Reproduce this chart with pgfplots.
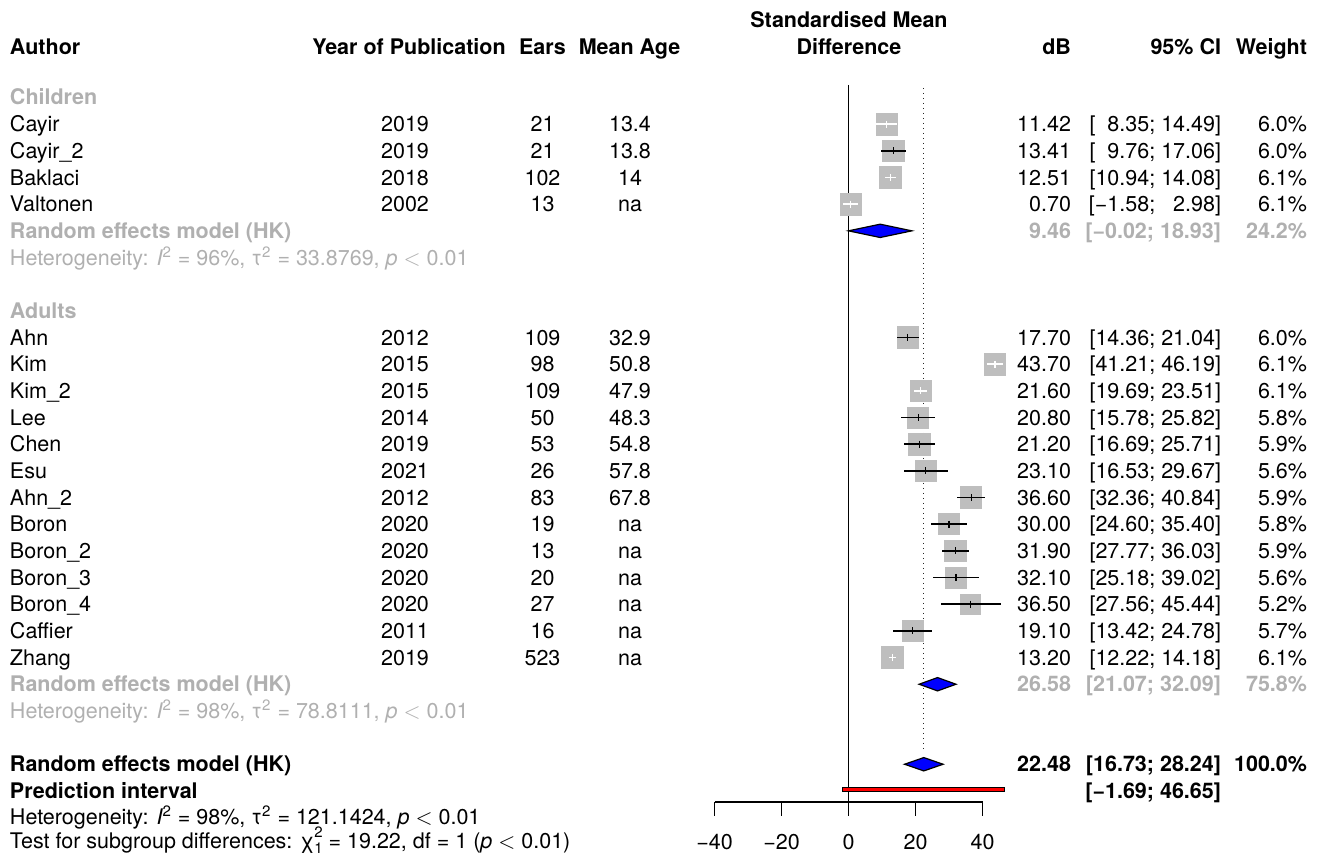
\documentclass[border=0pt]{standalone}
\usepackage{pgfplots}
\pgfplotsset{compat=1.18}
\usepackage{pgfplotstable}
\usepackage{fontspec}
\setmainfont{TeX Gyre Heros}
\definecolor{sqgray}{HTML}{BEBEBE}
\definecolor{txgray}{HTML}{B0B0B0}
\definecolor{dblue}{HTML}{0000FF}
\definecolor{dred}{HTML}{FF0000}

% studies whose CI lies inside the square (white CI line); e = half width of CI
\pgfplotstableread{
row est lo hi e w
1 11.42 8.35 14.49 3.07 6.0
3 12.51 10.94 14.08 1.57 6.1
4 0.70 -1.58 2.98 2.28 6.1
10 43.70 41.21 46.19 2.49 6.1
11 21.60 19.69 23.51 1.91 6.1
21 13.20 12.22 14.18 0.98 6.1
}\inside
% studies whose CI extends beyond the square (black CI line)
\pgfplotstableread{
row est lo hi e w
2 13.41 9.76 17.06 3.65 6.0
9 17.70 14.36 21.04 3.34 6.0
12 20.80 15.78 25.82 5.02 5.8
13 21.20 16.69 25.71 4.51 5.9
14 23.10 16.53 29.67 6.57 5.6
15 36.60 32.36 40.84 4.24 5.9
16 30.00 24.60 35.40 5.40 5.8
17 31.90 27.77 36.03 4.13 5.9
18 32.10 25.18 39.02 6.92 5.6
19 36.50 27.56 45.44 8.94 5.2
20 19.10 13.42 24.78 5.68 5.7
}\outside

\newcommand{\strow}[8]{%
 \node[anchor=base west] at (10,#1) {#2};
 \node[anchor=base] at (405,#1) {#3};
 \node[anchor=base] at (542.5,#1) {#4};
 \node[anchor=base] at (630,#1) {#5};
 \node[anchor=base east] at (1071,#1) {#6};
 \node[anchor=base east] at (1221,#1) {#7};
 \node[anchor=base east] at (1307,#1) {#8};
}
\newcommand{\Isq}{{\itshape I}\textsuperscript{2}}
\newcommand{\tsq}{τ\textsuperscript{2}}
\newcommand{\lt}{\ensuremath{<}}
\newcommand{\chisq}{χ\rlap{\raisebox{-0.22em}{\fontsize{7.5}{8}\selectfont 1}}\raisebox{0.5em}{\fontsize{7.5}{8}\selectfont 2}}
\pgfplotsset{
  sqstyle/.style={scatter, only marks, mark=square*,
    point meta=explicit, point meta min=0, point meta max=10,
    scatter/use mapped color={draw=sqgray, fill=sqgray},
    scatter/@pre marker code/.append style={/tikz/mark size={5.4*sqrt(\pgfplotspointmetatransformed/600)}}},
  cistyle/.style={on layer=axis foreground, only marks, mark=|, mark size=1.8pt, mark options={draw=#1, line width=0.6pt},
    error bars/.cd, x dir=both, x explicit, error mark=none,
    error bar style={#1, line width=0.75pt}},
}

\begin{document}
\begin{tikzpicture}[font=\fontsize{10.75}{12}\selectfont]
\begin{axis}[
  at={(0pt,0pt)}, anchor=south west,
  scale only axis, width=660pt, height=428.5pt,
  xmin=-253.28, xmax=140.75,
  ymin=-3.656, ymax=28.478, y dir=reverse,
  hide axis, clip=false, set layers,
]
% reference lines
\addplot[black, line width=0.7pt] coordinates {(0,-0.47) (0,26.42)};
\addplot[black!85, line width=0.6pt, dash pattern=on 0.6pt off 1.9pt] coordinates {(22.48,-0.36) (22.48,24.57)};
% bottom axis
\addplot[black, line width=0.7pt] coordinates {(-40,26.42) (40,26.42)};
\pgfplotsinvokeforeach{-40,-20,0,20,40}{
  \addplot[black, line width=0.7pt] coordinates {(#1,26.42) (#1,26.94)};
}
% squares
\addplot[sqstyle] table[x=est, y=row, meta=w] {\inside};
\addplot[sqstyle] table[x=est, y=row, meta=w] {\outside};
% CI lines
\addplot[cistyle=white] table[x=est, y=row, x error=e] {\inside};
\addplot[cistyle=black] table[x=est, y=row, x error=e] {\outside};
% summary diamonds
\addplot[fill=dblue, draw=black, line width=0.6pt] coordinates {(-0.02,5) (9.46,4.75) (18.93,5) (9.46,5.25)} -- cycle;
\addplot[fill=dblue, draw=black, line width=0.6pt] coordinates {(21.07,22) (26.58,21.75) (32.09,22) (26.58,22.25)} -- cycle;
\addplot[fill=dblue, draw=black, line width=0.6pt] coordinates {(16.73,25) (22.48,24.75) (28.24,25) (22.48,25.25)} -- cycle;
% prediction interval
\addplot[fill=dred, draw=black, line width=0.6pt] coordinates {(-1.69,25.86) (46.65,25.86) (46.65,26.02) (-1.69,26.02)} -- cycle;
\end{axis}

\begin{scope}[x=0.5pt, y=-13.335pt, shift={(0pt,376pt)}, inner sep=0pt, outer sep=0pt]
% headers
\begin{scope}[font=\fontsize{10.75}{12}\selectfont\bfseries]
\node[anchor=base west] at (10,-1.9) {Author};
\node[anchor=base] at (409,-1.9) {Year of Publication};
\node[anchor=base] at (542.5,-1.9) {Ears};
\node[anchor=base] at (629.5,-1.9) {Mean Age};
\node[anchor=base] at (849,-2.9) {Standardised Mean};
\node[anchor=base] at (849,-1.9) {Difference};
\node[anchor=base east] at (1071,-1.9) {dB};
\node[anchor=base east] at (1221,-1.9) {95\% CI};
\node[anchor=base east] at (1307,-1.9) {Weight};
\end{scope}
% children
\node[anchor=base west, text=txgray, font=\fontsize{10.75}{12}\selectfont\bfseries] at (10,0) {Children};
\strow{1}{Cayir}{2019}{21}{13.4}{11.42}{[\phantom{0}8.35; 14.49]}{6.0\%}
\strow{2}{Cayir\_2}{2019}{21}{13.8}{13.41}{[\phantom{0}9.76; 17.06]}{6.0\%}
\strow{3}{Baklaci}{2018}{102}{14}{12.51}{[10.94; 14.08]}{6.1\%}
\strow{4}{Valtonen}{2002}{13}{na}{0.70}{[−1.58; \phantom{0}2.98]}{6.1\%}
\begin{scope}[text=txgray, font=\fontsize{10.75}{12}\selectfont\bfseries]
\node[anchor=base west] at (10,5) {Random effects model (HK)};
\node[anchor=base east] at (1071,5) {9.46};
\node[anchor=base east] at (1221,5) {[−0.02; 18.93]};
\node[anchor=base east] at (1307,5) {24.2\%};
\end{scope}
\node[anchor=base west, text=txgray] at (10,6) {Heterogeneity: \Isq{} = 96\%, \tsq{} = 33.8769, \textit{p} \lt{} 0.01};
% adults
\node[anchor=base west, text=txgray, font=\fontsize{10.75}{12}\selectfont\bfseries] at (10,8) {Adults};
\strow{9}{Ahn}{2012}{109}{32.9}{17.70}{[14.36; 21.04]}{6.0\%}
\strow{10}{Kim}{2015}{98}{50.8}{43.70}{[41.21; 46.19]}{6.1\%}
\strow{11}{Kim\_2}{2015}{109}{47.9}{21.60}{[19.69; 23.51]}{6.1\%}
\strow{12}{Lee}{2014}{50}{48.3}{20.80}{[15.78; 25.82]}{5.8\%}
\strow{13}{Chen}{2019}{53}{54.8}{21.20}{[16.69; 25.71]}{5.9\%}
\strow{14}{Esu}{2021}{26}{57.8}{23.10}{[16.53; 29.67]}{5.6\%}
\strow{15}{Ahn\_2}{2012}{83}{67.8}{36.60}{[32.36; 40.84]}{5.9\%}
\strow{16}{Boron}{2020}{19}{na}{30.00}{[24.60; 35.40]}{5.8\%}
\strow{17}{Boron\_2}{2020}{13}{na}{31.90}{[27.77; 36.03]}{5.9\%}
\strow{18}{Boron\_3}{2020}{20}{na}{32.10}{[25.18; 39.02]}{5.6\%}
\strow{19}{Boron\_4}{2020}{27}{na}{36.50}{[27.56; 45.44]}{5.2\%}
\strow{20}{Caffier}{2011}{16}{na}{19.10}{[13.42; 24.78]}{5.7\%}
\strow{21}{Zhang}{2019}{523}{na}{13.20}{[12.22; 14.18]}{6.1\%}
\begin{scope}[text=txgray, font=\fontsize{10.75}{12}\selectfont\bfseries]
\node[anchor=base west] at (10,22) {Random effects model (HK)};
\node[anchor=base east] at (1071,22) {26.58};
\node[anchor=base east] at (1221,22) {[21.07; 32.09]};
\node[anchor=base east] at (1307,22) {75.8\%};
\end{scope}
\node[anchor=base west, text=txgray] at (10,23) {Heterogeneity: \Isq{} = 98\%, \tsq{} = 78.8111, \textit{p} \lt{} 0.01};
% overall
\begin{scope}[font=\fontsize{10.75}{12}\selectfont\bfseries]
\node[anchor=base west] at (10,25) {Random effects model (HK)};
\node[anchor=base east] at (1071,25) {22.48};
\node[anchor=base east] at (1221,25) {[16.73; 28.24]};
\node[anchor=base east] at (1307,25) {100.0\%};
\node[anchor=base west] at (10,26) {Prediction interval};
\node[anchor=base east] at (1221,26) {[−1.69; 46.65]};
\end{scope}
\node[anchor=base west] at (10,26.97) {Heterogeneity: \Isq{} = 98\%, \tsq{} = 121.1424, \textit{p} \lt{} 0.01};
\node[anchor=base west] at (10,27.88) {Test for subgroup differences: \chisq{} = 19.22, df = 1 (\textit{p} \lt{} 0.01)};
% tick labels
\node[anchor=base] at (714.5,27.93) {−40};
\node[anchor=base] at (781.5,27.93) {−20};
\node[anchor=base] at (848.5,27.93) {0};
\node[anchor=base] at (915.5,27.93) {20};
\node[anchor=base] at (982.5,27.93) {40};
\end{scope}
\pgfresetboundingbox
\useasboundingbox (0pt,0pt) rectangle (660pt,428.5pt);
\end{tikzpicture}
\end{document}
